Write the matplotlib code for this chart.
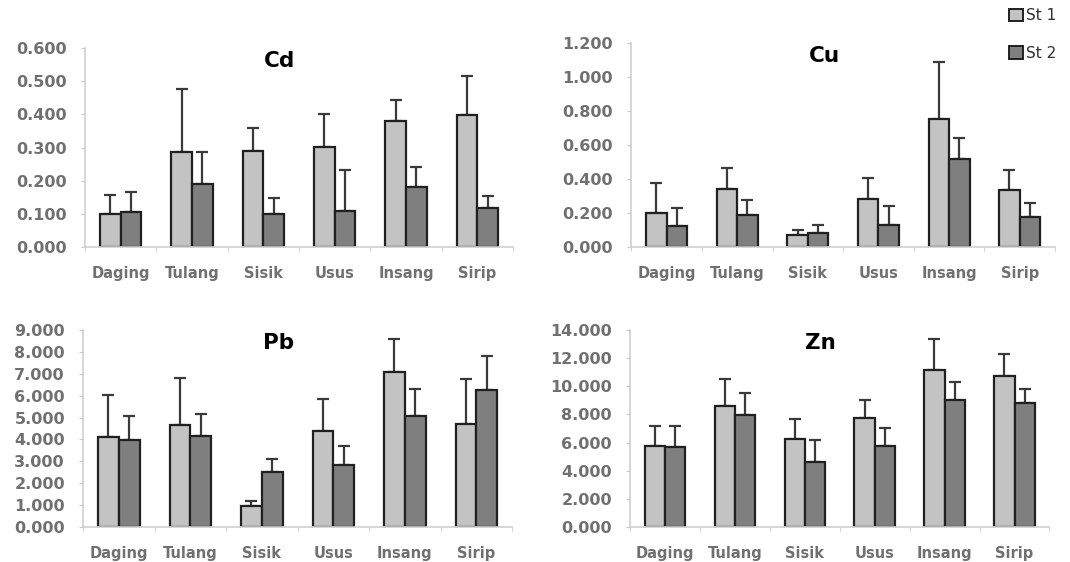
import matplotlib
matplotlib.use("Agg")
import matplotlib.pyplot as plt
import numpy as np
from matplotlib.patches import Patch

categories = ["Daging", "Tulang", "Sisik", "Usus", "Insang", "Sirip"]
series_names = ["St 1", "St 2"]

cd_st1 = [0.100, 0.285, 0.290, 0.303, 0.380, 0.398]
cd_st1_top = [0.158, 0.475, 0.358, 0.400, 0.442, 0.515]
cd_st2 = [0.105, 0.190, 0.100, 0.108, 0.182, 0.118]
cd_st2_top = [0.165, 0.285, 0.147, 0.233, 0.242, 0.155]

cu_st1 = [0.200, 0.340, 0.070, 0.285, 0.750, 0.335]
cu_st1_top = [0.375, 0.465, 0.100, 0.405, 1.090, 0.450]
cu_st2 = [0.125, 0.190, 0.080, 0.130, 0.520, 0.175]
cu_st2_top = [0.228, 0.278, 0.130, 0.240, 0.640, 0.260]

pb_st1 = [4.10, 4.65, 0.95, 4.40, 7.10, 4.70]
pb_st1_top = [6.02, 6.82, 1.20, 5.85, 8.58, 6.75]
pb_st2 = [3.98, 4.15, 2.52, 2.85, 5.05, 6.25]
pb_st2_top = [5.08, 5.18, 3.10, 3.72, 6.30, 7.80]

zn_st1 = [5.75, 8.60, 6.25, 7.75, 11.15, 10.70]
zn_st1_top = [7.20, 10.50, 7.65, 9.05, 13.35, 12.30]
zn_st2 = [5.70, 7.95, 4.65, 5.75, 9.05, 8.80]
zn_st2_top = [7.20, 9.55, 6.15, 7.05, 10.30, 9.80]

c1, c2 = "#c3c3c3", "#7f7f7f"
label_col = "#707070"

fig = plt.figure(figsize=(10.70, 5.62), dpi=100)
fig.patch.set_facecolor("white")

panels = [
    ("Cd", [0.0794, 0.5605, 0.400, 0.354], cd_st1, cd_st1_top, cd_st2, cd_st2_top, 0.6, 0.1),
    ("Cu", [0.590, 0.5605, 0.396, 0.363], cu_st1, cu_st1_top, cu_st2, cu_st2_top, 1.2, 0.2),
    ("Pb", [0.0776, 0.0623, 0.401, 0.3505], pb_st1, pb_st1_top, pb_st2, pb_st2_top, 9.0, 1.0),
    ("Zn", [0.5888, 0.0623, 0.392, 0.3505], zn_st1, zn_st1_top, zn_st2, zn_st2_top, 14.0, 2.0),
]

x = np.arange(len(categories))
w = 0.29
for title, pos, s1, t1, s2, t2, ymax, step in panels:
    ax = fig.add_axes(pos)
    e1 = np.array(t1) - np.array(s1)
    e2 = np.array(t2) - np.array(s2)
    ax.bar(x - w / 2, s1, w, color=c1, edgecolor="#202020", linewidth=1.6, zorder=2)
    ax.bar(x + w / 2, s2, w, color=c2, edgecolor="#202020", linewidth=1.6, zorder=2)
    ax.errorbar(x - w / 2, s1, yerr=[np.zeros_like(e1), e1], fmt="none",
                ecolor="#3a3a3a", elinewidth=1.6, capsize=4, capthick=1.6, zorder=1)
    ax.errorbar(x + w / 2, s2, yerr=[np.zeros_like(e2), e2], fmt="none",
                ecolor="#3a3a3a", elinewidth=1.6, capsize=4, capthick=1.6, zorder=1)
    ax.set_xlim(-0.5, len(categories) - 0.5)
    ax.set_ylim(0, ymax)
    yt = np.arange(0, ymax + step / 2, step)
    ax.set_yticks(yt)
    ax.set_yticklabels([f"{v:.3f}" for v in yt])
    ax.set_xticks(x)
    ax.set_xticklabels(categories)
    ax.set_xticks(np.arange(-0.5, len(categories)), minor=True)
    ax.tick_params(axis="x", which="major", length=0, pad=14, labelsize=10.5, labelcolor=label_col)
    ax.tick_params(axis="x", which="minor", length=3, color="#c8c8c8")
    ax.tick_params(axis="y", length=3, color="#c8c8c8", pad=10, labelsize=11.5, labelcolor=label_col)
    for lab in ax.get_xticklabels() + ax.get_yticklabels():
        lab.set_fontweight("bold")
    for sp in ["top", "right"]:
        ax.spines[sp].set_visible(False)
    for sp in ["left", "bottom"]:
        ax.spines[sp].set_color("#cfcfcf")
        ax.spines[sp].set_linewidth(1.2)
    ax.text(0.455, 0.985, title, transform=ax.transAxes, ha="center", va="top",
            fontsize=15.5, fontweight="bold", color="black")

handles = [Patch(facecolor=c1, edgecolor="#202020", linewidth=1.4, label=series_names[0]),
           Patch(facecolor=c2, edgecolor="#202020", linewidth=1.4, label=series_names[1])]
fig.legend(handles=handles, loc="upper right", bbox_to_anchor=(1.0, 1.01), frameon=False,
           fontsize=11, labelspacing=1.5, handlelength=0.9, handleheight=0.9,
           handletextpad=0.2, labelcolor="#303030")

fig.savefig("out.png", dpi=100, facecolor="white")
